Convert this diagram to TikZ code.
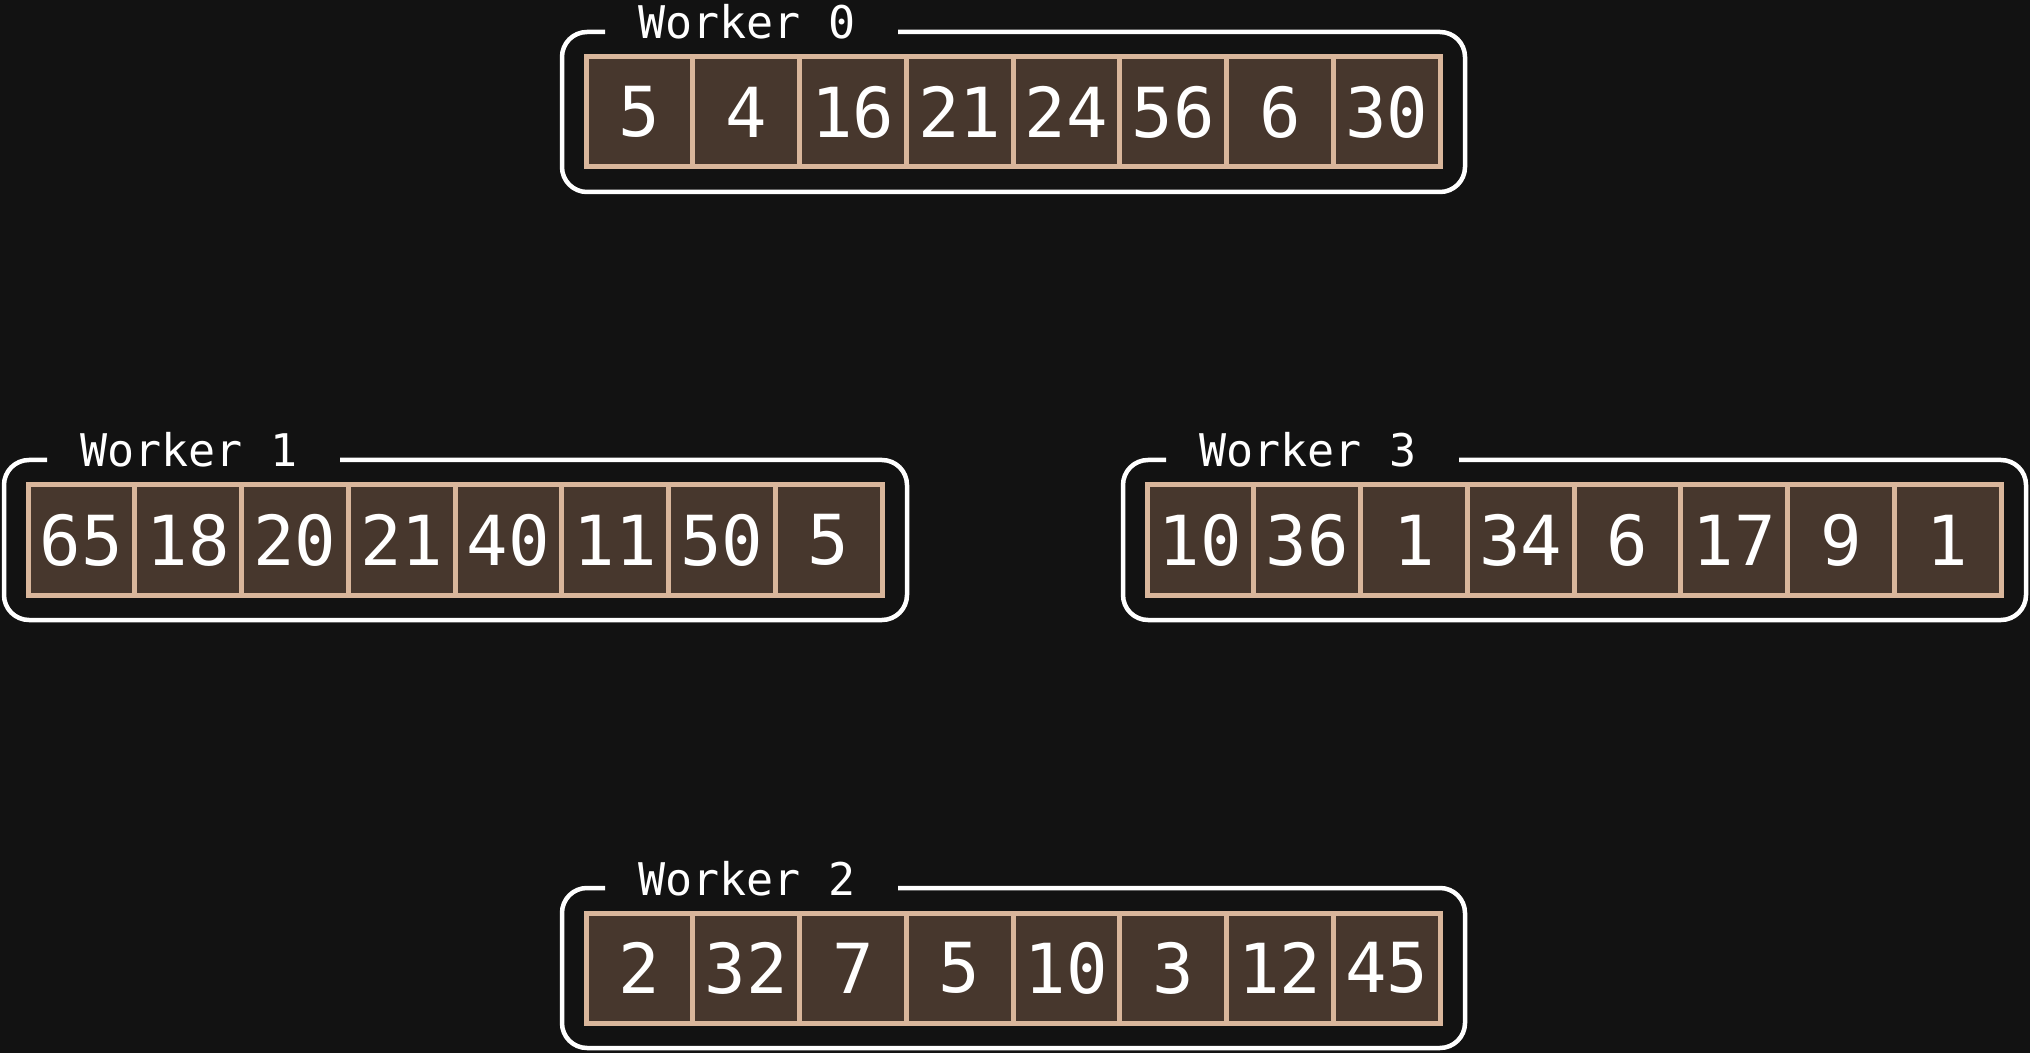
\documentclass[tikz,border=0pt]{standalone}
\usepackage{fontspec}
\newfontfamily\monofnt{DejaVu Sans Mono}
\definecolor{bg}{HTML}{121212}
\definecolor{cellfill}{HTML}{47372D}
\definecolor{celledge}{HTML}{D9B69B}
\newcommand\workerbox[4]{%
  \draw[frame] (#1+336,#2) -- (#1+903,#2) -- (#1+903,#2+160) -- (#1,#2+160) -- (#1,#2) -- (#1+43,#2);
  \node[wlabel] (w#3) at (#1+76,#2+7) {Worker #3};
  \foreach \v [count=\i] in {#4}
    \node[cell] (w#3c\i) at ({#1+24+106.75*(\i-0.5)}, #2+80) {\raisebox{-1pt}{\v}};
}
\begin{document}
\begin{tikzpicture}[x=0.5pt,y=-0.5pt,
  cell/.style={draw=celledge, fill=cellfill, line width=2.5pt, minimum width=53.375pt, minimum height=55pt, inner sep=0pt, font=\monofnt\fontsize{34.5}{40}\selectfont, text=white},
  frame/.style={draw=white, line width=2.25pt, rounded corners=12.5pt},
  wlabel/.style={font=\monofnt\fontsize{22.5}{26}\selectfont, text=white, inner sep=0pt, anchor=base west}]
\fill[bg] (0,0) rectangle (2030,1053);
\useasboundingbox (0,0) rectangle (2030,1053);
\workerbox{562}{32}{0}{5,4,16,21,24,56,6,30}
\workerbox{4}{460}{1}{65,18,20,21,40,11,50,5}
\workerbox{1123}{460}{3}{10,36,1,34,6,17,9,1}
\workerbox{562}{888}{2}{2,32,7,5,10,3,12,45}
\end{tikzpicture}
\end{document}
